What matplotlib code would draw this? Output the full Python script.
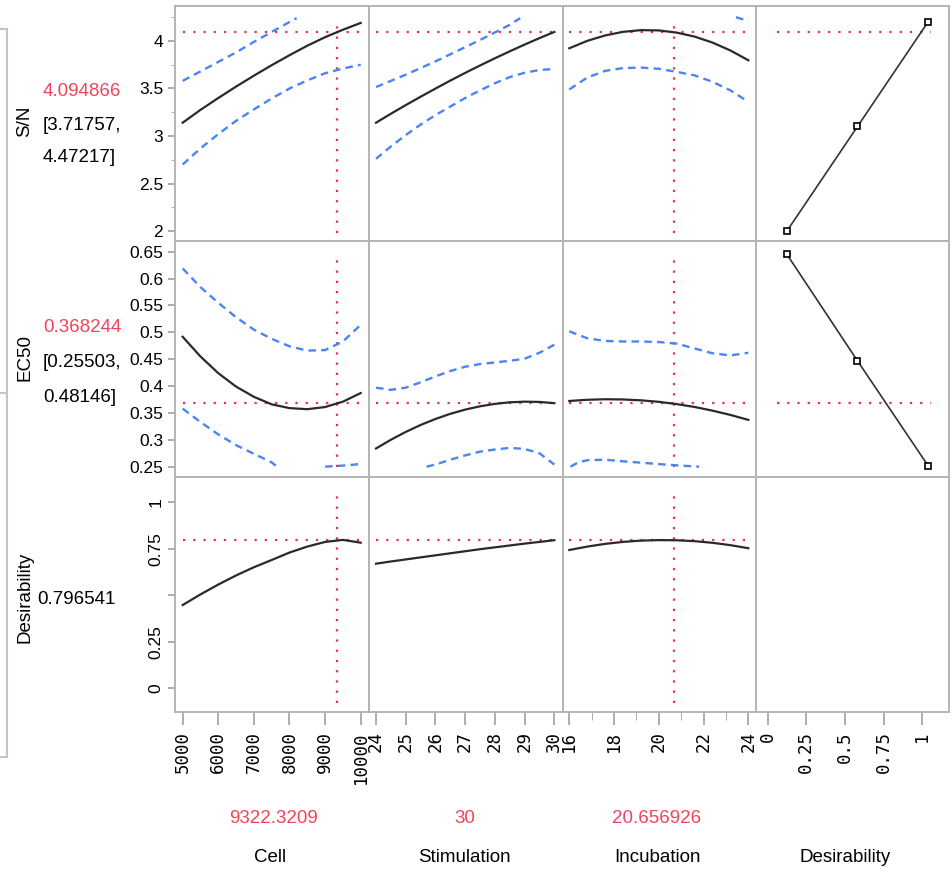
import numpy as np
import matplotlib
matplotlib.use("Agg")
import matplotlib.pyplot as plt
from matplotlib.lines import Line2D

# factor grids
cell = [5000, 5500, 6000, 6500, 7000, 7500, 8000, 8500, 9000, 9500, 10000]
stim = [24, 24.5, 25, 25.5, 26, 26.5, 27, 27.5, 28, 28.5, 29, 29.5, 30]
incu = [16, 16.8, 17.6, 18.4, 19.2, 20, 20.8, 21.6, 22.4, 23.2, 24]

# current settings and predictions
cell_now, stim_now, incu_now = 9322.3209, 30, 20.656926
sn_now, sn_ci = 4.094866, (3.71757, 4.47217)
ec_now, ec_ci = 0.368244, (0.25503, 0.48146)
des_now = 0.796541

# S/N profiles
sn_cell = [3.14, 3.275, 3.40, 3.52, 3.635, 3.745, 3.85, 3.95, 4.04, 4.118, 4.19]
sn_cell_lo = [2.70, 2.87, 3.02, 3.16, 3.28, 3.395, 3.50, 3.585, 3.66, 3.71, 3.75]
sn_cell_hi_x = [5000, 5500, 6000, 6500, 7000, 7500, 8000, 8200]
sn_cell_hi = [3.58, 3.68, 3.78, 3.88, 3.99, 4.095, 4.20, 4.24]

sn_stim = [3.14, 3.234, 3.325, 3.413, 3.499, 3.583, 3.664, 3.742, 3.818, 3.891, 3.962, 4.030, 4.095]
sn_stim_lo = [2.76, 2.89, 3.01, 3.12, 3.22, 3.31, 3.40, 3.48, 3.555, 3.62, 3.665, 3.695, 3.705]
sn_stim_hi_x = [24, 24.5, 25, 25.5, 26, 26.5, 27, 27.5, 28, 28.5, 28.85]
sn_stim_hi = [3.515, 3.58, 3.645, 3.715, 3.785, 3.86, 3.935, 4.01, 4.09, 4.17, 4.24]

sn_incu = [3.923, 4.001, 4.058, 4.096, 4.114, 4.111, 4.088, 4.046, 3.983, 3.900, 3.797]
sn_incu_lo = [3.49, 3.615, 3.685, 3.715, 3.72, 3.707, 3.675, 3.638, 3.57, 3.48, 3.36]
sn_incu_hi_x = [23.45, 24]
sn_incu_hi = [4.25, 4.21]

# EC50 profiles
ec_cell = [0.4917, 0.455, 0.424, 0.399, 0.380, 0.366, 0.359, 0.357, 0.361, 0.371, 0.387]
ec_cell_hi = [0.619, 0.584, 0.555, 0.528, 0.505, 0.488, 0.474, 0.466, 0.467, 0.483, 0.514]
ec_cell_lo_x = [5000, 5500, 6000, 6500, 7000, 7500, 7650, 8300, 9000, 9500, 10000]
ec_cell_lo = [0.358, 0.333, 0.31, 0.29, 0.274, 0.258, 0.25, np.nan, 0.25, 0.252, 0.255]

ec_stim = [0.2839, 0.3001, 0.3147, 0.3276, 0.3388, 0.3484, 0.3562, 0.3624, 0.3669, 0.3698, 0.3710, 0.3705, 0.3682]
ec_stim_hi = [0.397, 0.393, 0.397, 0.407, 0.418, 0.428, 0.436, 0.441, 0.444, 0.447, 0.451, 0.462, 0.477]
ec_stim_lo_x = [25.7, 26, 26.5, 27, 27.5, 28, 28.5, 29, 29.5, 30]
ec_stim_lo = [0.25, 0.254, 0.263, 0.271, 0.278, 0.282, 0.285, 0.283, 0.275, 0.254]

ec_incu = [0.3723, 0.3745, 0.3755, 0.3751, 0.3735, 0.3707, 0.3665, 0.3611, 0.3543, 0.3463, 0.3371]
ec_incu_hi = [0.502, 0.489, 0.484, 0.483, 0.483, 0.482, 0.479, 0.470, 0.461, 0.457, 0.462]
ec_incu_lo_x = [16.05, 16.4, 16.8, 17.6, 18.4, 19.2, 20, 20.8, 21.6, 21.8]
ec_incu_lo = [0.25, 0.258, 0.262, 0.263, 0.26, 0.2575, 0.2548, 0.2525, 0.2505, 0.25]

# overall desirability profiles
des_cell = [0.448, 0.505, 0.558, 0.607, 0.651, 0.69, 0.73, 0.762, 0.787, 0.798, 0.783]
des_stim = [0.67, 0.682, 0.693, 0.704, 0.715, 0.726, 0.737, 0.748, 0.758, 0.768, 0.778, 0.787, 0.7965]
des_incu = [0.7436, 0.762, 0.7765, 0.7872, 0.794, 0.7969, 0.7959, 0.7911, 0.7823, 0.7697, 0.7532]

# desirability functions (desirability -> response)
d_pts = [0.0183, 0.5, 0.9817]
sn_d = [2.0, 3.1, 4.2]
ec_d = [0.645, 0.447, 0.252]

SANS = "Liberation Sans"
MONO = "DejaVu Sans Mono"
RED = "#ee2f45"
RED_TXT = "#f2435c"
BLUE = "#4a85f2"
GRID = "#b4b4b4"

W, H = 952, 872
fig = plt.figure(figsize=(W / 100, H / 100), dpi=100)


def px_axes(x0, y0, x1, y1):
    return fig.add_axes([x0 / W, 1 - y1 / H, (x1 - x0) / W, (y1 - y0) / H])


def ftext(x, y, s, **kw):
    fig.text(x / W, 1 - y / H, s, **kw)


col_x = [175, 369, 562.5, 756, 949]
row_y = [6, 241, 477, 712]
col_lims = [(4784, 10233), (23.764, 30.275), (15.696, 24.344), (-0.193, 1.125)]
row_lims = [(1.895, 4.368), (0.2308, 0.670), (-0.127, 1.136)]
vspan = [(1.98, 4.23), (0.25, 0.644), (-0.079, 1.066)]

xs = [cell, stim, incu]
now_x = [cell_now, stim_now, incu_now]
now_y = [sn_now, ec_now, des_now]
means = [[sn_cell, sn_stim, sn_incu], [ec_cell, ec_stim, ec_incu], [des_cell, des_stim, des_incu]]
upper = [[(sn_cell_hi_x, sn_cell_hi), (sn_stim_hi_x, sn_stim_hi), (sn_incu_hi_x, sn_incu_hi)],
         [(cell, ec_cell_hi), (stim, ec_stim_hi), (incu, ec_incu_hi)]]
lower = [[(cell, sn_cell_lo), (stim, sn_stim_lo), (incu, sn_incu_lo)],
         [(ec_cell_lo_x, ec_cell_lo), (ec_stim_lo_x, ec_stim_lo), (ec_incu_lo_x, ec_incu_lo)]]

dot = dict(color=RED, lw=1.6, linestyle=(0, (1, 3.6)), dash_capstyle="butt")
dash = dict(color=BLUE, lw=1.7, linestyle=(0, (3.2, 2.2)))

axes = {}
for r in range(3):
    for c in range(4):
        ax = px_axes(col_x[c], row_y[r], col_x[c + 1], row_y[r + 1])
        axes[r, c] = ax
        ax.set_xlim(col_lims[c])
        ax.set_ylim(row_lims[r])
        for sp in ax.spines.values():
            sp.set_color(GRID)
            sp.set_linewidth(1.4)
        ax.tick_params(colors="#a0a0a0", labelcolor="black", width=1.2)
        ax.set_xticks([])
        ax.set_yticks([])
        if c < 3:
            x = xs[c]
            ax.plot([x[0], x[-1]], [now_y[r], now_y[r]], **dot)
            if c != 1:
                ax.plot([now_x[c], now_x[c]], vspan[r], **dot)
            if r < 2:
                ax.plot(*upper[r][c], **dash)
                ax.plot(*lower[r][c], **dash)
            ax.plot(x, means[r][c], color="#2a2a2a", lw=1.6)

# desirability function panels
for r, resp in ((0, sn_d), (1, ec_d)):
    ax = axes[r, 3]
    ax.plot([-0.05, 1.0], [now_y[r], now_y[r]], **dot)
    ax.plot(d_pts, resp, color="#333333", lw=1.2, marker="s", ms=4.5,
            mfc="white", mec="black", mew=1.2)
axes[2, 3].set_xlim(-0.0757, 1.1727)

# response axes on the left
axes[0, 0].set_yticks([2, 2.5, 3, 3.5, 4], ["2", "2.5", "3", "3.5", "4"])
axes[0, 0].set_yticks([2.25, 2.75, 3.25, 3.75, 4.25], minor=True)
ec_ticks = [0.25, 0.3, 0.35, 0.4, 0.45, 0.5, 0.55, 0.6, 0.65]
axes[1, 0].set_yticks(ec_ticks, [f"{t:g}" for t in ec_ticks])
axes[2, 0].set_yticks([0, 0.25, 0.5, 0.75, 1], ["0", "0.25", "", "0.75", "1"])
for r in range(3):
    ax = axes[r, 0]
    ax.tick_params(axis="y", which="major", length=5, pad=3.5, labelsize=12.5)
    ax.tick_params(axis="y", which="minor", length=3, colors="#a0a0a0")
    for lab in ax.get_yticklabels():
        lab.set_family(SANS)
for lab in axes[2, 0].get_yticklabels():
    lab.set_rotation(90)
    lab.set_va("center")

# factor axes along the bottom
bottom_ticks = [
    ([5000, 6000, 7000, 8000, 9000, 10000], []),
    ([24, 25, 26, 27, 28, 29, 30], []),
    ([16, 18, 20, 22, 24], [17, 19, 21, 23]),
    ([0, 0.25, 0.5, 0.75, 1], []),
]
for c, (major, minor) in enumerate(bottom_ticks):
    ax = axes[2, c]
    ax.set_xticks(major, [f"{t:g}" for t in major])
    ax.set_xticks(minor, minor=True)
    ax.tick_params(axis="x", which="major", length=9, pad=5, labelsize=12.5,
                   labelrotation=90)
    ax.tick_params(axis="x", which="minor", length=5.5, colors="#a0a0a0")
    for lab in ax.get_xticklabels():
        lab.set_family(MONO)

# response names and predicted values
big = dict(fontsize=13.5, family=SANS, va="center")
ftext(25, 121, "S/N", rotation=90, ha="center", **big)
ftext(43, 92, f"{sn_now:.6f}", color=RED_TXT, ha="left", **big)
ftext(43, 125, f"[{sn_ci[0]:.5f},", ha="left", **big)
ftext(43, 158, f"{sn_ci[1]:.5f}]", ha="left", **big)
ftext(25, 357, "EC50", rotation=90, ha="center", **big)
ftext(43, 328, f"{ec_now:.6f}", color=RED_TXT, ha="left", **big)
ftext(43, 362, f"[{ec_ci[0]:.5f},", ha="left", **big)
ftext(43, 397, f"{ec_ci[1]:.5f}]", ha="left", **big)
ftext(25, 597, "Desirability", rotation=90, ha="center", **big)
ftext(37, 599, f"{des_now:.6f}", ha="left", **big)

# factor names and current settings
ftext(273, 818, f"{cell_now:.4f}", color=RED_TXT, ha="center", **big)
ftext(465, 818, f"{stim_now}", color=RED_TXT, ha="center", **big)
ftext(657, 818, f"{incu_now:.6f}", color=RED_TXT, ha="center", **big)
for xc, name in zip([270, 464, 658, 845], ["Cell", "Stimulation", "Incubation", "Desirability"]):
    ftext(xc, 857, name, ha="center", **big)

# outer bracket on the left edge
for xx, yy in (([6.5, 6.5], [29, 757]), ([0, 6.5], [29, 29]),
               ([0, 6.5], [757, 757]), ([0, 6.5], [393, 393])):
    fig.add_artist(Line2D([v / W for v in xx], [1 - v / H for v in yy],
                          color="#c4c4c4", lw=1.5))

fig.savefig("out.png", dpi=100)
plt.close(fig)
